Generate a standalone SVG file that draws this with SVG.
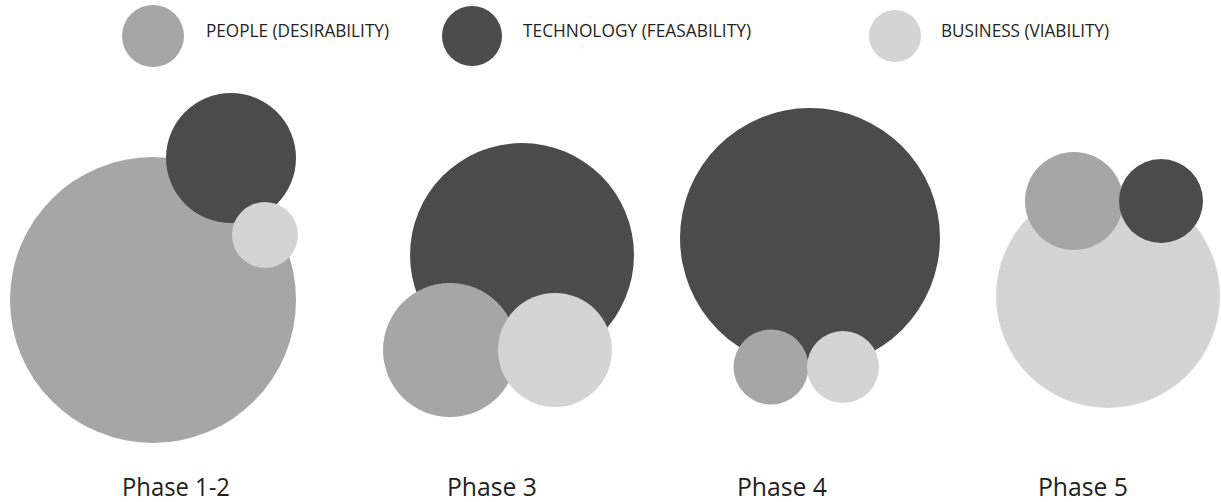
<svg xmlns="http://www.w3.org/2000/svg" width="1221" height="502" viewBox="0 0 1221 502">
<style>
.people{fill:#a6a6a6}
.tech{fill:#4b4b4b}
.biz{fill:#d4d4d4}
.leg{font-family:"Open Sans","Liberation Sans",sans-serif;font-size:19px;fill:#231f20}
.ph{font-family:"Open Sans","Liberation Sans",sans-serif;font-size:26px;fill:#231f20}
</style>
<rect width="1221" height="502" fill="#ffffff"/>
<g id="legend">
<g id="legend-people"><circle class="people" cx="153" cy="36" r="31"/><text class="leg" x="206" y="37" textLength="183" lengthAdjust="spacingAndGlyphs">PEOPLE (DESIRABILITY)</text></g>
<g id="legend-tech"><circle class="tech" cx="472" cy="36" r="30"/><text class="leg" x="523" y="37" textLength="228" lengthAdjust="spacingAndGlyphs">TECHNOLOGY (FEASABILITY)</text></g>
<g id="legend-business"><circle class="biz" cx="895" cy="36" r="26"/><text class="leg" x="941" y="37" textLength="168" lengthAdjust="spacingAndGlyphs">BUSINESS (VIABILITY)</text></g>
</g>
<g id="phase12">
<circle class="people" cx="153" cy="300" r="143"/>
<circle class="tech" cx="231" cy="158" r="65"/>
<circle class="biz" cx="265" cy="235" r="33"/>
<text class="ph" x="122" y="496" textLength="108" lengthAdjust="spacingAndGlyphs">Phase 1-2</text>
</g>
<g id="phase3">
<circle class="tech" cx="522" cy="255" r="112"/>
<circle class="people" cx="450" cy="350" r="67"/>
<circle class="biz" cx="555" cy="350" r="57"/>
<text class="ph" x="447" y="496" textLength="90" lengthAdjust="spacingAndGlyphs">Phase 3</text>
</g>
<g id="phase4">
<circle class="tech" cx="810" cy="238" r="130"/>
<circle class="people" cx="771" cy="367" r="37.5"/>
<circle class="biz" cx="843" cy="367" r="36"/>
<text class="ph" x="737" y="496" textLength="90" lengthAdjust="spacingAndGlyphs">Phase 4</text>
</g>
<g id="phase5">
<circle class="biz" cx="1108" cy="296" r="112"/>
<circle class="people" cx="1074" cy="201" r="49"/>
<circle class="tech" cx="1161" cy="201" r="42"/>
<text class="ph" x="1038" y="496" textLength="90" lengthAdjust="spacingAndGlyphs">Phase 5</text>
</g>
<g id="connectors"/>
</svg>
